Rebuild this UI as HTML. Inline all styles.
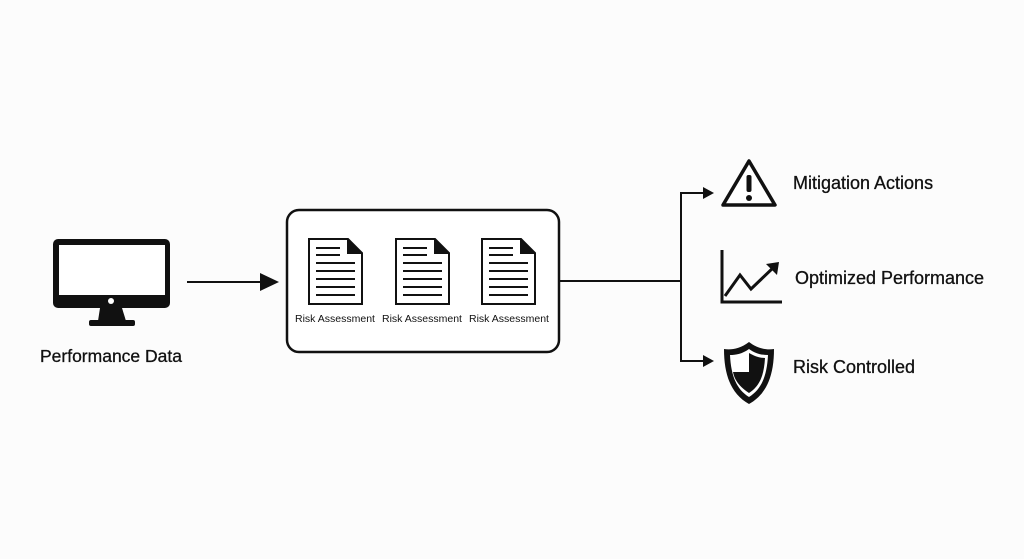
<!DOCTYPE html>
<html><head><meta charset="utf-8"><style>
html,body{margin:0;padding:0;background:#fcfcfc;}
svg{display:block;}
text{font-family:"Liberation Sans",sans-serif;fill:#111;}
</style></head><body>
<svg width="1024" height="559" viewBox="0 0 1024 559" xmlns="http://www.w3.org/2000/svg">
<rect width="1024" height="559" fill="#fcfcfc"/>
<!-- monitor -->
<rect x="53" y="239" width="117" height="69" rx="5" fill="#111"/>
<rect x="59" y="245" width="106" height="50" fill="#fff"/>
<circle cx="111" cy="301" r="3" fill="#fff"/>
<path d="M100 308 L122 308 L126 321 L98 321 Z" fill="#111"/>
<rect x="89" y="320" width="46" height="6" rx="2" fill="#111"/>
<text x="111" y="362" font-size="17.5" text-anchor="middle" stroke="#111" stroke-width="0.3">Performance Data</text>
<!-- arrow -->
<line x1="187" y1="282" x2="262" y2="282" stroke="#111" stroke-width="2"/>
<path d="M260 273 L279 282 L260 291 Z" fill="#111"/>
<!-- box -->
<rect x="287" y="210" width="272" height="142" rx="12" fill="#fff" stroke="#111" stroke-width="2.5"/>
<g id="doc">
<path d="M309 239 L348 239 L362 253 L362 304 L309 304 Z" fill="#fff" stroke="#111" stroke-width="2"/>
<path d="M347 239 L362 254 L347 254 Z" fill="#111"/>
<g stroke="#111" stroke-width="2">
<line x1="316" y1="248" x2="340" y2="248"/>
<line x1="316" y1="255" x2="340" y2="255"/>
<line x1="316" y1="263" x2="355" y2="263"/>
<line x1="316" y1="271" x2="355" y2="271"/>
<line x1="316" y1="279" x2="355" y2="279"/>
<line x1="316" y1="287" x2="355" y2="287"/>
<line x1="316" y1="295" x2="355" y2="295"/>
</g>
</g>
<use href="#doc" x="87"/>
<use href="#doc" x="173"/>
<text x="335" y="322" font-size="10.5" text-anchor="middle">Risk Assessment</text>
<text x="422" y="322" font-size="10.5" text-anchor="middle">Risk Assessment</text>
<text x="509" y="322" font-size="10.5" text-anchor="middle">Risk Assessment</text>
<!-- branch -->
<g stroke="#111" stroke-width="2" fill="none">
<line x1="559" y1="281" x2="681" y2="281"/>
<line x1="681" y1="193" x2="681" y2="361"/>
<line x1="680" y1="193" x2="704" y2="193"/>
<line x1="680" y1="361" x2="704" y2="361"/>
</g>
<path d="M703 187 L714 193 L703 199 Z" fill="#111"/>
<path d="M703 355 L714 361 L703 367 Z" fill="#111"/>
<!-- warning -->
<path d="M749 161 L775 205 L723 205 Z" fill="#fff" stroke="#111" stroke-width="3.5" stroke-linejoin="round"/>
<rect x="746.5" y="175" width="5" height="17" rx="2" fill="#111"/>
<circle cx="749" cy="198" r="3" fill="#111"/>
<text x="793" y="189" font-size="18" stroke="#111" stroke-width="0.3">Mitigation Actions</text>
<!-- chart -->
<g stroke="#111" stroke-width="3" fill="none">
<polyline points="722,250 722,302 782,302"/>
<polyline points="725,296 740,275 751,289 775,266"/>
</g>
<path d="M766 264 L779 262 L777 275 Z" fill="#111"/>
<text x="795" y="284" font-size="18" stroke="#111" stroke-width="0.3">Optimized Performance</text>
<!-- shield -->
<path d="M749 342 C740 349 731 350 724 349 C724 375 731 394 749 404 C767 394 774 375 774 349 C767 350 758 349 749 342 Z" fill="#111"/>
<path d="M749 349 C742 354 736 355 730 355 C731 375 736 389 749 397 C762 389 767 375 768 355 C762 355 756 354 749 349 Z" fill="#fff"/>
<path d="M749 353 C756 357 761 358 765 358 C764 375 760 386 749 393 C738 386 734 378 733 372 L749 372 Z" fill="#111"/>
<text x="793" y="373" font-size="18" stroke="#111" stroke-width="0.3">Risk Controlled</text>
</svg>
</body></html>
